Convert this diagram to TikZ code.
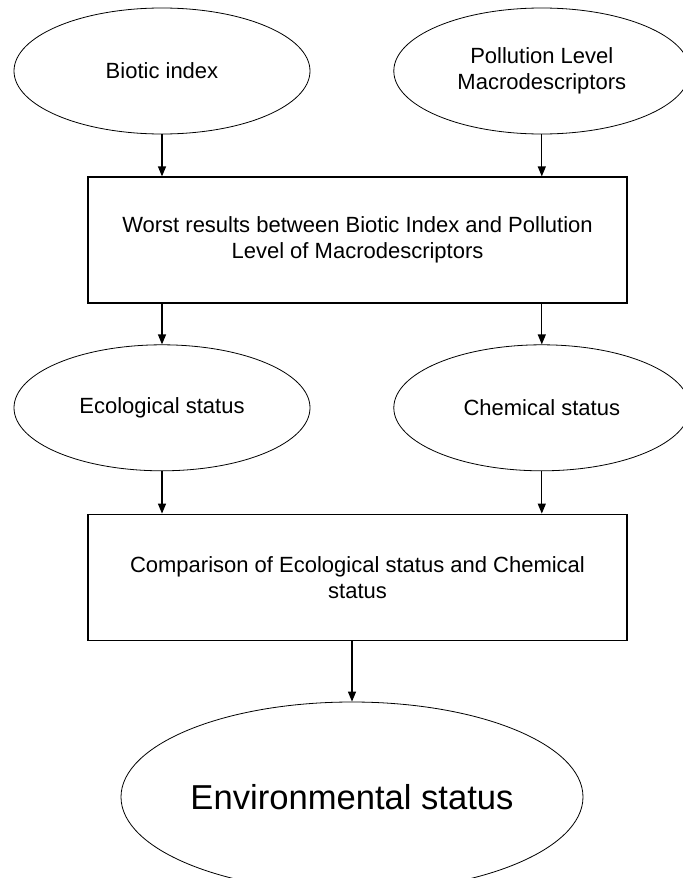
\documentclass[tikz,border=0pt]{standalone}
\usepackage{fontspec}
\setmainfont{Liberation Sans}
\usepackage{tikz}
\usetikzlibrary{arrows.meta, shapes.geometric, positioning}

\begin{document}
\begin{tikzpicture}[
        > = {Triangle[length=5pt, width=4pt]},
        x = 0.5pt,
        y = -0.5pt,
        node distance = 105pt,
        semithick
    ]

    \tikzstyle{oval}=[
        ellipse,
        draw = black,
        thin,
        minimum width = 148pt,
        minimum height = 63pt,
        inner sep = 0pt,
        align = center,
        font = \fontsize{11}{13}\selectfont
    ]
    \tikzstyle{block}=[
        rectangle,
        draw = black,
        minimum width = 269.5pt,
        minimum height = 63pt,
        align = center,
        font = \fontsize{11}{13}\selectfont
    ]

    \useasboundingbox (0,0) rectangle (682,878);

    \node[oval] (bio) at (162,71) {Biotic index};
    \node[oval] (poll) [right=41.5pt of bio] {Pollution Level\\Macrodescriptors};
    \node[block] (worst) at (357.5,240) {Worst results between Biotic Index and Pollution\\Level of Macrodescriptors};
    \node[oval] (eco) [below=of bio] {Ecological status};
    \node[oval] (chem) [right=41.5pt of eco] {Chemical status};
    \node[block] (comp) [below=of worst] {Comparison of Ecological status and Chemical\\status};
    \node[oval, minimum width=231pt, minimum height=95pt, font=\fontsize{17.3}{20}\selectfont] (env) at (352,797) {Environmental status};

    \draw[->] (bio.south) -- (bio.south |- worst.north);
    \draw[->] (poll.south) -- (poll.south |- worst.north);
    \draw[->] (eco.north |- worst.south) -- (eco.north);
    \draw[->] (chem.north |- worst.south) -- (chem.north);
    \draw[->] (eco.south) -- (eco.south |- comp.north);
    \draw[->] (chem.south) -- (chem.south |- comp.north);
    \draw[->] (env.north |- comp.south) -- (env.north);

\end{tikzpicture}
\end{document}
